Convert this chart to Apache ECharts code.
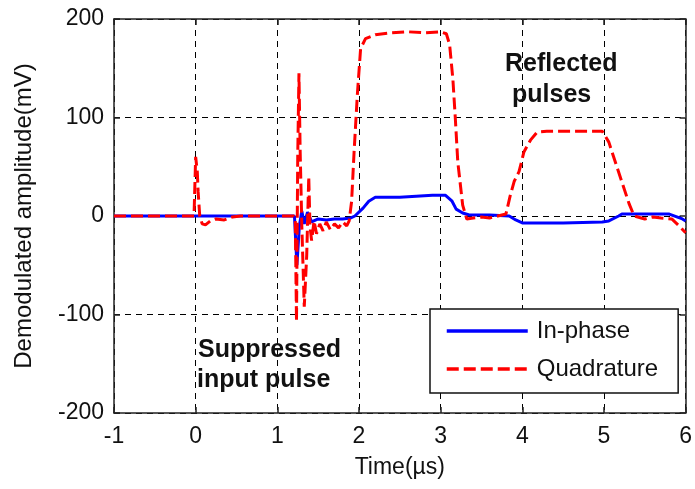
<!DOCTYPE html>
<html>
<head>
<meta charset="utf-8">
<script src="https://cdn.jsdelivr.net/npm/echarts@6/dist/echarts.min.js"></script>
<style>
html,body{margin:0;padding:0;background:#fff;}
#main{width:695px;height:489px;}
</style>
</head>
<body>
<div id="main"></div>
<script>
// ---- data ----
const xTicks = [-1, 0, 1, 2, 3, 4, 5, 6];
const yTicks = [-200, -100, 0, 100, 200];

const inPhaseTime = [-1, 1.21, 1.24, 1.27, 1.30, 1.33, 1.37, 1.42, 1.5, 1.6, 1.7, 1.8, 1.9, 1.95, 2.05, 2.12, 2.2, 2.5, 2.7, 2.9, 3.06, 3.14, 3.19, 3.27, 3.35, 3.6, 3.84, 3.92, 4.0, 4.5, 4.98, 5.06, 5.18, 5.22, 5.8, 5.96, 6.0];
const inPhaseValue = [0, 0, -50, -10, 5, -8, 4, -6, -3, -4, -3, -3, -2, 0, 8, 15, 19, 19, 20, 21, 21, 15, 7, 3, 1, 1, 0, -4, -7, -7, -6, -5, 0, 2, 2, -3, -5];

const quadTime = [-1, -0.02, 0, 0.02, 0.03, 0.05, 0.08, 0.12, 0.18, 0.25, 0.35, 0.45, 0.55, 1.2, 1.22, 1.235, 1.25, 1.265, 1.28, 1.30, 1.33, 1.36, 1.385, 1.40, 1.42, 1.45, 1.48, 1.52, 1.56, 1.60, 1.65, 1.70, 1.75, 1.80, 1.85, 1.88, 1.91, 1.94, 1.98, 2.02, 2.08, 2.2, 2.4, 2.6, 2.8, 3.0, 3.07, 3.11, 3.15, 3.18, 3.21, 3.27, 3.32, 3.4, 3.5, 3.6, 3.7, 3.8, 3.85, 3.9, 3.96, 4.02, 4.1, 4.18, 4.3, 4.6, 4.98, 5.06, 5.15, 5.23, 5.31, 5.37, 5.5, 5.6, 5.7, 5.83, 5.92, 6.0];
const quadValue = [0, 0, 60, 45, 25, 0, -8, -9, -5, -3, -4, -1, 0, 0, -5, -107, 60, 145, 65, -10, -92, -40, 40, -10, -25, -5, -18, -8, -15, -6, -14, -8, -12, -6, -10, -5, 15, 65, 123, 170, 180, 184, 186, 187, 186, 187, 185, 174, 139, 99, 55, 11, -3, -2, -1, -2, 0, 2, 20, 35, 45, 65, 77, 85, 86, 86, 86, 75, 52, 32, 12, 0, -3, -1, -2, -3, -10, -17];

const seriesNames = ['In-phase', 'Quadrature'];
const annotationTop = ['Reflected', 'pulses'];
const annotationBottom = ['Suppressed', 'input pulse'];

const FONT = "'Liberation Sans', Arial, sans-serif";
const TXT = '#111';

const chart = echarts.init(document.getElementById('main'), null, {renderer: 'canvas'});

const axisCommon = {
  type: 'value',
  axisLine: {show: true, onZero: false, lineStyle: {color: '#222', width: 1.5}},
  axisTick: {show: true, inside: true, length: 6, lineStyle: {color: '#222', width: 1.5}},
};

chart.setOption({
  animation: false,
  backgroundColor: '#fff',
  grid: {left: 114, right: 8, top: 19, bottom: 76},
  xAxis: [
    Object.assign({}, axisCommon, {
      min: xTicks[0], max: xTicks[xTicks.length - 1], interval: 1,
      position: 'bottom',
      name: 'Time(\u00b5s)', nameLocation: 'middle', nameGap: 43,
      nameTextStyle: {fontFamily: FONT, fontSize: 23, color: TXT},
      axisLabel: {fontFamily: FONT, fontSize: 23, color: TXT, margin: 12},
      splitLine: {show: true, lineStyle: {color: '#000', type: [6, 5], width: 1}}
    }),
    Object.assign({}, axisCommon, {
      min: xTicks[0], max: xTicks[xTicks.length - 1], interval: 1,
      position: 'top', axisLabel: {show: false}, splitLine: {show: false}
    })
  ],
  yAxis: [
    Object.assign({}, axisCommon, {
      min: yTicks[0], max: yTicks[yTicks.length - 1], interval: 100,
      position: 'left',
      name: 'Demodulated amplitude(mV)', nameLocation: 'middle', nameGap: 78,
      nameTextStyle: {fontFamily: FONT, fontSize: 24, color: TXT},
      axisLabel: {fontFamily: FONT, fontSize: 23, color: TXT, margin: 10},
      splitLine: {show: true, lineStyle: {color: '#000', type: [6, 5], width: 1}}
    }),
    Object.assign({}, axisCommon, {
      min: yTicks[0], max: yTicks[yTicks.length - 1], interval: 100,
      position: 'right', axisLabel: {show: false}, splitLine: {show: false}
    })
  ],
  legend: {
    orient: 'vertical',
    left: 430, top: 309,
    data: seriesNames,
    backgroundColor: '#fff',
    borderColor: '#111', borderWidth: 1.5,
    padding: [10, 20, 12, 15],
    itemGap: 14,
    itemWidth: 81, itemHeight: 14,
    selectedMode: false,
    itemStyle: {opacity: 0},
    lineStyle: {width: 3.5},
    textStyle: {fontFamily: FONT, fontSize: 24, color: TXT, padding: [0, 0, 0, 4]}
  },
  graphic: [
    {type: 'text', left: 505, top: 52, z: 100, style: {text: annotationTop[0], font: "bold 25px " + FONT, fill: '#111'}},
    {type: 'text', left: 512, top: 83, z: 100, style: {text: annotationTop[1], font: "bold 25px " + FONT, fill: '#111'}},
    {type: 'text', left: 198, top: 338, z: 100, style: {text: annotationBottom[0], font: "bold 25px " + FONT, fill: '#111'}},
    {type: 'text', left: 197, top: 368, z: 100, style: {text: annotationBottom[1], font: "bold 25px " + FONT, fill: '#111'}}
  ],
  series: [
    {
      name: seriesNames[0], type: 'line', symbol: 'none',
      data: inPhaseTime.map((t, i) => [t, inPhaseValue[i]]),
      lineStyle: {color: '#0000ff', width: 3},
      itemStyle: {color: '#0000ff'},
      z: 3
    },
    {
      name: seriesNames[1], type: 'line', symbol: 'none',
      data: quadTime.map((t, i) => [t, quadValue[i]]),
      lineStyle: {color: '#ff0000', width: 3, type: [12, 5]},
      itemStyle: {color: '#ff0000'},
      z: 4
    }
  ]
});
</script>
</body>
</html>
